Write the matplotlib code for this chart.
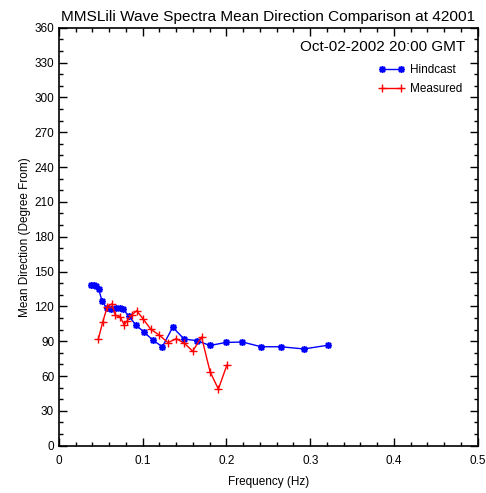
import matplotlib
matplotlib.use('Agg')
import matplotlib.pyplot as plt
from matplotlib.ticker import MultipleLocator, FuncFormatter

plt.rcParams['font.family'] = ['Liberation Sans', 'DejaVu Sans']

# Hindcast (blue)
hind_freq = [0.0382, 0.0412, 0.0442, 0.0474, 0.0514, 0.0570, 0.0621, 0.0681, 0.0729,
             0.0761, 0.0833, 0.0920, 0.1015, 0.1119, 0.1234, 0.1358, 0.1493, 0.1645,
             0.1804, 0.1992, 0.2190, 0.2413, 0.2652, 0.2924, 0.3210]
hind_dir = [138.4, 138.0, 137.1, 134.7, 124.6, 118.3, 117.7, 118.9, 118.3,
            117.7, 111.7, 103.7, 97.9, 91.0, 85.2, 102.0, 91.9, 90.4,
            86.3, 88.9, 89.3, 85.2, 85.2, 83.3, 86.5]

# Measured (red)
meas_freq = [0.0470, 0.0522, 0.0577, 0.0630, 0.0673, 0.0729, 0.0777, 0.0816, 0.0872,
             0.0928, 0.1007, 0.1096, 0.1198, 0.1302, 0.1401, 0.1496, 0.1597, 0.1702,
             0.1804, 0.1903, 0.2004]
meas_dir = [91.9, 106.5, 119.7, 122.1, 112.3, 111.1, 104.2, 107.7, 112.8,
            116.3, 108.9, 100.3, 95.2, 88.7, 92.2, 88.2, 81.4, 93.6,
            63.7, 48.7, 69.3]

fig = plt.figure(figsize=(4.86, 4.93), dpi=100)
ax = fig.add_axes([0.1214, 0.096, 0.8616, 0.8478])

ax.plot(hind_freq, hind_dir, color='blue', lw=1, marker=(8, 2, 0), ms=5,
        mew=1.1, label='Hindcast')
ax.plot(meas_freq, meas_dir, color='red', lw=1, marker='+', ms=6,
        mew=1, label='Measured')

ax.set_xlim(0, 0.5)
ax.set_ylim(0, 360)
ax.xaxis.set_major_locator(MultipleLocator(0.1))
ax.xaxis.set_minor_locator(MultipleLocator(0.02))
ax.yaxis.set_major_locator(MultipleLocator(30))
ax.yaxis.set_minor_locator(MultipleLocator(10))
ax.xaxis.set_major_formatter(FuncFormatter(lambda v, p: '0' if abs(v) < 1e-9 else '%g' % round(v, 2)))
ax.tick_params(which='both', direction='in', top=True, right=True, labelsize=8.5, width=1)
ax.tick_params(which='major', length=6)
ax.tick_params(which='minor', length=3)
ax.tick_params(axis='x', pad=7)
for s in ax.spines.values():
    s.set_linewidth(1.2)

ax.set_xlabel('Frequency (Hz)', fontsize=8.5, labelpad=6)
ax.set_ylabel('Mean Direction (Degree From)', fontsize=8.5, labelpad=2)
ax.set_title('MMSLili Wave Spectra Mean Direction Comparison at 42001', fontsize=11.1, pad=5)

ax.text(0.97, 0.955, 'Oct-02-2002 20:00 GMT', transform=ax.transAxes,
        ha='right', va='center', fontsize=11)

ax.legend(loc='upper right', bbox_to_anchor=(0.975, 0.925), frameon=False,
          numpoints=2, fontsize=8.5, handlelength=2.2, handletextpad=0.5,
          labelspacing=0.6, borderaxespad=0)

fig.savefig('out.png', dpi=100)
